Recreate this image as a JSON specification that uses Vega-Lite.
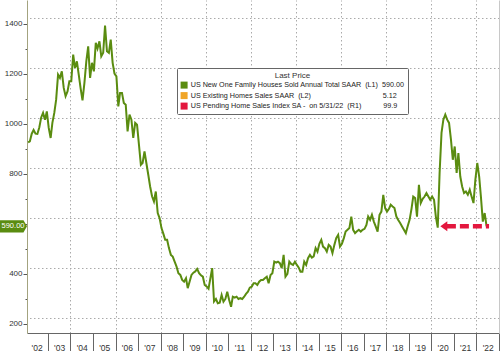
{
  "$schema": "https://vega.github.io/schema/vega-lite/v6.json",
  "width": 472,
  "height": 333,
  "autosize": {"type": "none"},
  "padding": {"left": 27, "top": 0, "right": 1, "bottom": 18},
  "background": "white",
  "config": {"view": {"stroke": null}, "font": "Liberation Sans"},
  "resolve": {"axis": {"y": "independent", "x": "independent"}},
  "layer": [
    {
      "data": {"values": [
        {"d":"2002-02-15","v":925},{"d":"2002-03-15","v":929},{"d":"2002-04-15","v":960},{"d":"2002-05-15","v":975},{"d":"2002-06-15","v":960},{"d":"2002-07-15","v":959},{"d":"2002-08-15","v":985},{"d":"2002-09-15","v":1025},{"d":"2002-10-15","v":1043},{"d":"2002-11-15","v":1016},{"d":"2002-12-15","v":1049},
        {"d":"2003-01-15","v":983},{"d":"2003-02-15","v":943},{"d":"2003-03-15","v":1003},{"d":"2003-04-15","v":1043},{"d":"2003-05-15","v":1096},{"d":"2003-06-15","v":1196},{"d":"2003-07-15","v":1183},{"d":"2003-08-15","v":1209},{"d":"2003-09-15","v":1143},{"d":"2003-10-15","v":1110},{"d":"2003-11-15","v":1129},{"d":"2003-12-15","v":1169},
        {"d":"2004-01-15","v":1169},{"d":"2004-02-15","v":1276},{"d":"2004-03-15","v":1223},{"d":"2004-04-15","v":1249},{"d":"2004-05-15","v":1196},{"d":"2004-06-15","v":1140},{"d":"2004-07-15","v":1093},{"d":"2004-08-15","v":1163},{"d":"2004-09-15","v":1250},{"d":"2004-10-15","v":1309},{"d":"2004-11-15","v":1183},{"d":"2004-12-15","v":1243},
        {"d":"2005-01-15","v":1209},{"d":"2005-02-15","v":1323},{"d":"2005-03-15","v":1300},{"d":"2005-04-15","v":1329},{"d":"2005-05-15","v":1269},{"d":"2005-06-15","v":1283},{"d":"2005-07-15","v":1392},{"d":"2005-08-15","v":1289},{"d":"2005-09-15","v":1283},{"d":"2005-10-15","v":1336},{"d":"2005-11-15","v":1243},{"d":"2005-12-15","v":1200},
        {"d":"2006-01-15","v":1189},{"d":"2006-02-15","v":1069},{"d":"2006-03-15","v":1123},{"d":"2006-04-15","v":1123},{"d":"2006-05-15","v":1083},{"d":"2006-06-15","v":1076},{"d":"2006-07-15","v":969},{"d":"2006-08-15","v":1036},{"d":"2006-09-15","v":1016},{"d":"2006-10-15","v":943},{"d":"2006-11-15","v":1003},{"d":"2006-12-15","v":996},
        {"d":"2007-01-15","v":916},{"d":"2007-02-15","v":836},{"d":"2007-03-15","v":843},{"d":"2007-04-15","v":889},{"d":"2007-05-15","v":843},{"d":"2007-06-15","v":796},{"d":"2007-07-15","v":749},{"d":"2007-08-15","v":710},{"d":"2007-09-15","v":689},{"d":"2007-10-15","v":729},{"d":"2007-11-15","v":643},{"d":"2007-12-15","v":623},
        {"d":"2008-01-15","v":583},{"d":"2008-02-15","v":560},{"d":"2008-03-15","v":536},{"d":"2008-04-15","v":536},{"d":"2008-05-15","v":503},{"d":"2008-06-15","v":476},{"d":"2008-07-15","v":469},{"d":"2008-08-15","v":449},{"d":"2008-09-15","v":429},{"d":"2008-10-15","v":403},{"d":"2008-11-15","v":396},{"d":"2008-12-15","v":376},
        {"d":"2009-01-15","v":369},{"d":"2009-02-15","v":383},{"d":"2009-03-15","v":343},{"d":"2009-04-15","v":370},{"d":"2009-05-15","v":396},{"d":"2009-06-15","v":405},{"d":"2009-07-15","v":410},{"d":"2009-08-15","v":420},{"d":"2009-09-15","v":403},{"d":"2009-10-15","v":395},{"d":"2009-11-15","v":389},{"d":"2009-12-15","v":356},
        {"d":"2010-01-15","v":350},{"d":"2010-02-15","v":341},{"d":"2010-03-15","v":380},{"d":"2010-04-15","v":423},{"d":"2010-05-15","v":290},{"d":"2010-06-15","v":300},{"d":"2010-07-15","v":283},{"d":"2010-08-15","v":285},{"d":"2010-09-15","v":316},{"d":"2010-10-15","v":289},{"d":"2010-11-15","v":300},{"d":"2010-12-15","v":329},
        {"d":"2011-01-15","v":296},{"d":"2011-02-15","v":269},{"d":"2011-03-15","v":309},{"d":"2011-04-15","v":305},{"d":"2011-05-15","v":309},{"d":"2011-06-15","v":300},{"d":"2011-07-15","v":303},{"d":"2011-08-15","v":300},{"d":"2011-09-15","v":309},{"d":"2011-10-15","v":320},{"d":"2011-11-15","v":329},{"d":"2011-12-15","v":345},
        {"d":"2012-01-15","v":349},{"d":"2012-02-15","v":363},{"d":"2012-03-15","v":363},{"d":"2012-04-15","v":356},{"d":"2012-05-15","v":369},{"d":"2012-06-15","v":376},{"d":"2012-07-15","v":376},{"d":"2012-08-15","v":383},{"d":"2012-09-15","v":389},{"d":"2012-10-15","v":363},{"d":"2012-11-15","v":396},{"d":"2012-12-15","v":403},
        {"d":"2013-01-15","v":449},{"d":"2013-02-15","v":445},{"d":"2013-03-15","v":449},{"d":"2013-04-15","v":443},{"d":"2013-05-15","v":423},{"d":"2013-06-15","v":476},{"d":"2013-07-15","v":389},{"d":"2013-08-15","v":400},{"d":"2013-09-15","v":449},{"d":"2013-10-15","v":440},{"d":"2013-11-15","v":436},{"d":"2013-12-15","v":449},
        {"d":"2014-01-15","v":436},{"d":"2014-02-15","v":425},{"d":"2014-03-15","v":409},{"d":"2014-04-15","v":409},{"d":"2014-05-15","v":449},{"d":"2014-06-15","v":436},{"d":"2014-07-15","v":463},{"d":"2014-08-15","v":476},{"d":"2014-09-15","v":465},{"d":"2014-10-15","v":470},{"d":"2014-11-15","v":503},{"d":"2014-12-15","v":489},
        {"d":"2015-01-15","v":520},{"d":"2015-02-15","v":536},{"d":"2015-03-15","v":509},{"d":"2015-04-15","v":503},{"d":"2015-05-15","v":489},{"d":"2015-06-15","v":516},{"d":"2015-07-15","v":509},{"d":"2015-08-15","v":483},{"d":"2015-09-15","v":516},{"d":"2015-10-15","v":543},{"d":"2015-11-15","v":556},{"d":"2015-12-15","v":509},
        {"d":"2016-01-15","v":520},{"d":"2016-02-15","v":543},{"d":"2016-03-15","v":569},{"d":"2016-04-15","v":576},{"d":"2016-05-15","v":583},{"d":"2016-06-15","v":629},{"d":"2016-07-15","v":576},{"d":"2016-08-15","v":563},{"d":"2016-09-15","v":570},{"d":"2016-10-15","v":576},{"d":"2016-11-15","v":569},{"d":"2016-12-15","v":576},
        {"d":"2017-01-15","v":580},{"d":"2017-02-15","v":596},{"d":"2017-03-15","v":629},{"d":"2017-04-15","v":616},{"d":"2017-05-15","v":636},{"d":"2017-06-15","v":609},{"d":"2017-07-15","v":590},{"d":"2017-08-15","v":569},{"d":"2017-09-15","v":636},{"d":"2017-10-15","v":649},{"d":"2017-11-15","v":716},{"d":"2017-12-15","v":663},
        {"d":"2018-01-15","v":649},{"d":"2018-02-15","v":660},{"d":"2018-03-15","v":676},{"d":"2018-04-15","v":669},{"d":"2018-05-15","v":663},{"d":"2018-06-15","v":629},{"d":"2018-07-15","v":615},{"d":"2018-08-15","v":603},{"d":"2018-09-15","v":589},{"d":"2018-10-15","v":576},{"d":"2018-11-15","v":563},{"d":"2018-12-15","v":590},
        {"d":"2019-01-15","v":616},{"d":"2019-02-15","v":660},{"d":"2019-03-15","v":709},{"d":"2019-04-15","v":703},{"d":"2019-05-15","v":629},{"d":"2019-06-15","v":756},{"d":"2019-07-15","v":683},{"d":"2019-08-15","v":700},{"d":"2019-09-15","v":709},{"d":"2019-10-15","v":723},{"d":"2019-11-15","v":709},{"d":"2019-12-15","v":696},
        {"d":"2020-01-15","v":709},{"d":"2020-02-15","v":696},{"d":"2020-03-15","v":629},{"d":"2020-04-15","v":585},{"d":"2020-05-15","v":803},{"d":"2020-06-15","v":963},{"d":"2020-07-15","v":1016},{"d":"2020-08-15","v":1036},{"d":"2020-09-15","v":1016},{"d":"2020-10-15","v":1003},{"d":"2020-11-15","v":936},{"d":"2020-12-15","v":856},
        {"d":"2021-01-15","v":909},{"d":"2021-02-15","v":803},{"d":"2021-03-15","v":883},{"d":"2021-04-15","v":789},{"d":"2021-05-15","v":749},{"d":"2021-06-15","v":723},{"d":"2021-07-15","v":729},{"d":"2021-08-15","v":716},{"d":"2021-09-15","v":736},{"d":"2021-10-15","v":709},{"d":"2021-11-15","v":683},{"d":"2021-12-15","v":776},
        {"d":"2022-01-15","v":843},{"d":"2022-02-15","v":789},{"d":"2022-03-15","v":709},{"d":"2022-04-15","v":609},{"d":"2022-05-15","v":643},{"d":"2022-06-15","v":590}
      ]},
      "mark": {"type": "line", "color": "#5a8c10", "strokeWidth": 2, "clip": true},
      "encoding": {
        "x": {
          "field": "d", "type": "temporal",
          "scale": {"domain": [{"year": 2002, "month": 1, "date": 28}, {"year": 2023, "month": 1, "date": 2}], "nice": false},
          "axis": {
            "title": null,
            "tickCount": {"interval": "year", "step": 1},
            "labelExpr": "\"'\" + slice(toString(year(datum.value) - 1), 2)",
            "labelOffset": -11.27,
            "labelFlush": false,
            "labelOverlap": false,
            "tickSize": 18,
            "tickColor": "#666",
            "labelPadding": -4,
            "labelBaseline": "middle",
            "labelFontSize": 8.5,
            "labelColor": "#333",
            "domainColor": "#666",
            "grid": false
          }
        },
        "y": {
          "field": "v", "type": "quantitative",
          "scale": {"domain": [164, 1494], "nice": false, "zero": false},
          "axis": {
            "title": null,
            "values": [200, 300, 400, 500, 600, 700, 800, 900, 1000, 1100, 1200, 1300, 1400],
            "labelExpr": "datum.value % 200 === 0 ? toString(datum.value) : ''",
            "tickSize": {"condition": {"test": "datum.value % 200 === 0", "value": 4}, "value": 2},
            "tickColor": "#555",
            "labelPadding": 1,
            "labelFontSize": 8,
            "labelColor": "#333",
            "domainColor": "#a3a37f",
            "grid": false
          }
        }
      }
    },
    {
      "data": {"values": [{}]},
      "mark": {"type": "rule", "color": "#e3173e", "strokeWidth": 4.5, "strokeDash": [9, 4], "strokeCap": "butt"},
      "encoding": {
        "x": {
          "datum": {"year": 2020, "month": 9, "date": 10}, "type": "temporal",
          "axis": {
            "orient": "top", "title": null,
            "values": [
              {"year": 2004, "month": 1, "date": 1}, {"year": 2006, "month": 1, "date": 1}, {"year": 2008, "month": 1, "date": 1},
              {"year": 2010, "month": 1, "date": 1}, {"year": 2012, "month": 1, "date": 1}, {"year": 2014, "month": 1, "date": 1},
              {"year": 2016, "month": 1, "date": 1}, {"year": 2018, "month": 1, "date": 1}, {"year": 2020, "month": 1, "date": 1},
              {"year": 2022, "month": 1, "date": 1}
            ],
            "labels": false, "ticks": false, "domain": false,
            "grid": true, "gridDash": [1.5, 2.5], "gridColor": "#aaaaaa"
          }
        },
        "x2": {"datum": {"year": 2022, "month": 7, "date": 25}},
        "y": {
          "datum": 590, "type": "quantitative",
          "axis": {
            "orient": "right", "title": null,
            "values": [222, 422, 622, 822, 1022, 1222, 1422],
            "labels": false, "ticks": false,
            "domain": true, "domainColor": "#c8c8c8",
            "grid": true, "gridDash": [1.5, 2.5], "gridColor": "#aaaaaa"
          }
        }
      }
    },
    {
      "data": {"values": [{}]},
      "mark": {"type": "point", "filled": true, "opacity": 1, "color": "#e3173e", "shape": "M-1,0L1,-1.43L1,1.43Z", "size": 49},
      "encoding": {
        "x": {"datum": {"year": 2020, "month": 7, "date": 22}, "type": "temporal", "axis": null},
        "y": {"datum": 590, "type": "quantitative", "axis": null}
      }
    },
    {
      "data": {"values": [{}]},
      "mark": {"type": "point", "filled": true, "opacity": 1, "shape": "M-1,-0.46L0.74,-0.46L1,0L0.74,0.46L-1,0.46Z", "size": 729, "xOffset": -13.5, "clip": false},
      "encoding": {
        "x": {"datum": {"year": 2002, "month": 1, "date": 28}, "type": "temporal", "axis": null},
        "y": {"datum": 590, "type": "quantitative", "axis": null},
        "color": {
          "datum": "US New One Family Houses Sold Annual Total SAAR\u00a0\u00a0(L1)\u00a0\u00a0590.00",
          "type": "nominal",
          "scale": {
            "domain": [
              "US New One Family Houses Sold Annual Total SAAR\u00a0\u00a0(L1)\u00a0\u00a0590.00",
              "US Existing Homes Sales SAAR\u00a0\u00a0(L2)\u00a0\u00a0\u00a0\u00a0\u00a0\u00a0\u00a0\u00a0\u00a0\u00a0\u00a0\u00a0\u00a0\u00a0\u00a0\u00a0\u00a0\u00a0\u00a0\u00a0\u00a0\u00a0\u00a0\u00a0\u00a0\u00a0\u00a0\u00a0\u00a0\u00a0\u00a0\u00a0\u00a0\u00a0\u00a0\u00a05.12",
              "US Pending Home Sales Index SA -\u00a0\u00a0on 5/31/22\u00a0\u00a0(R1)\u00a0\u00a0\u00a0\u00a0\u00a0\u00a0\u00a0\u00a0\u00a0\u00a0\u00a099.9"
            ],
            "range": ["#5a8c10", "#f0a528", "#e3173e"]
          },
          "legend": {
            "orient": "none", "legendX": 150, "legendY": 68,
            "title": "Last Price", "titleAnchor": "middle", "titleFontSize": 8, "titleFontWeight": "normal", "titleColor": "#333", "titlePadding": 2,
            "labelFontSize": 7.2, "labelColor": "#222", "labelLimit": 500, "labelOffset": 3,
            "symbolType": "square", "symbolSize": 49, "symbolStrokeWidth": 0, "symbolOpacity": 1,
            "rowPadding": 1.5,
            "fillColor": "white", "strokeColor": "#666", "padding": 3.5, "cornerRadius": 1
          }
        }
      }
    },
    {
      "data": {"values": [{}]},
      "mark": {"type": "text", "text": "590.00", "color": "white", "fontSize": 7.5, "dx": -14, "align": "center", "baseline": "middle", "clip": false},
      "encoding": {
        "x": {"datum": {"year": 2002, "month": 1, "date": 28}, "type": "temporal", "axis": null},
        "y": {"datum": 590, "type": "quantitative", "axis": null}
      }
    }
  ]
}
